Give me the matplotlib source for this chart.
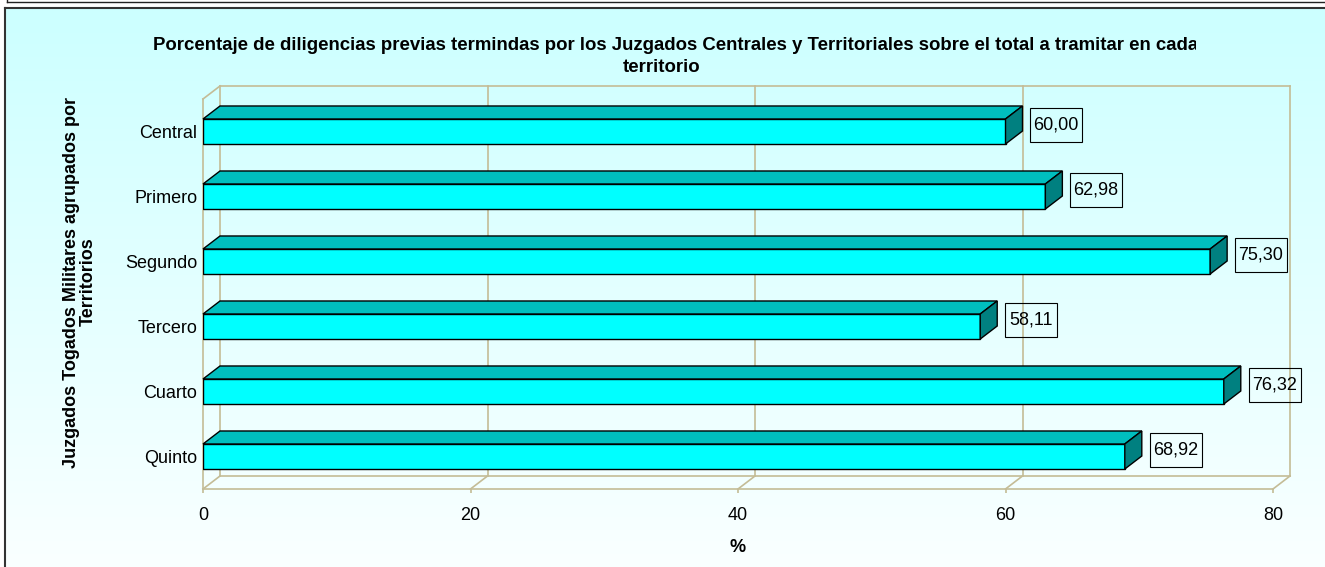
import numpy as np
import matplotlib

matplotlib.use("Agg")
from matplotlib import pyplot as plt
from matplotlib import font_manager as fm
from matplotlib.patches import Polygon, Rectangle
from matplotlib.lines import Line2D
from matplotlib.transforms import Bbox, TransformedBbox

plt.rcParams["font.family"] = ["Liberation Sans", "DejaVu Sans"]


def fuente(bold):
    # evitar que se cuele la variante Narrow
    for f in fm.fontManager.ttflist:
        if f.name == "Liberation Sans" and "Narrow" not in f.fname:
            if (f.weight in (700, "bold")) == bold and f.style == "normal":
                return fm.FontProperties(fname=f.fname)
    return fm.FontProperties(family="Liberation Sans", weight="bold" if bold else "normal")


territorios = ["Central", "Primero", "Segundo", "Tercero", "Cuarto", "Quinto"]
porcentajes = [60.00, 62.98, 75.30, 58.11, 76.32, 68.92]
etiquetas = ["60,00", "62,98", "75,30", "58,11", "76,32", "68,92"]
x_ticks = [0, 20, 40, 60, 80]

W, H = 1325, 567
fig = plt.figure(figsize=(W / 100, H / 100), dpi=100)
fig.patch.set_facecolor("white")
negrita = fuente(True)
normal = fuente(False)

# fondo degradado del área del gráfico
bg = fig.add_axes([5 / W, 0, 1 - 5 / W, 1 - 7 / H])
bg.set_zorder(-10)
grad = np.linspace(0, 1, 256)[:, None]
top_c = np.array([204, 255, 255]) / 255
bot_c = np.array([250, 255, 255]) / 255
img = top_c[None, None, :] * (1 - grad[:, :, None]) + bot_c[None, None, :] * grad[:, :, None]
bg.imshow(img, aspect="auto", extent=(0, 1, 0, 1))
bg.set_axis_off()

# marcos
fig.add_artist(Line2D([5 / W, 1], [1 - 7.5 / H] * 2, color="#333333", lw=1.5, transform=fig.transFigure))
fig.add_artist(Line2D([5 / W] * 2, [0, 1 - 7.5 / H], color="#333333", lw=1.5, transform=fig.transFigure))
fig.add_artist(Line2D([7 / W, 1], [1 - 1.5 / H] * 2, color="#222222", lw=1.0, transform=fig.transFigure))
fig.add_artist(Line2D([7 / W] * 2, [1 - 1.5 / H, 1], color="#222222", lw=1.0, transform=fig.transFigure))

ax = fig.add_axes([203 / W, 1 - 489 / H, (1273 - 203) / W, (489 - 99) / H])
ax.patch.set_visible(False)
n = len(territorios)
y = np.arange(n)
ax.set_xlim(0, 80)
ax.set_ylim(n - 0.5, -0.5)

dx = 17 / 13.375
dy = 0.2
h = 0.385
wall = "#C4BC96"

# pared del fondo y suelo
y_top, y_bot = -0.5, n - 0.5
for xv in x_ticks:
    ax.plot([xv + dx] * 2, [y_bot - dy, y_top - dy], color=wall, lw=1.2, clip_on=False, zorder=1)
    ax.plot([xv, xv + dx], [y_bot, y_bot - dy], color=wall, lw=1.2, clip_on=False, zorder=1)
ax.plot([dx, 80 + dx], [y_top - dy] * 2, color=wall, lw=1.2, clip_on=False, zorder=1)
ax.plot([dx, 80 + dx], [y_bot - dy] * 2, color=wall, lw=1.2, clip_on=False, zorder=1)
ax.plot([0, 80], [y_bot] * 2, color=wall, lw=1.2, clip_on=False, zorder=1)
ax.plot([0, 0], [y_bot, y_top], color=wall, lw=1.2, clip_on=False, zorder=1)
ax.plot([0, dx], [y_top, y_top - dy], color=wall, lw=1.2, clip_on=False, zorder=1)

# barras 3D
ax.barh(y, porcentajes, height=h, color="#00FFFF", edgecolor="black", lw=1.0, zorder=3)
box_w, box_h = 52 / 13.375, 34 / 65
for yi, v, lab in zip(y, porcentajes, etiquetas):
    t = yi - h / 2
    b = yi + h / 2
    ax.add_patch(Polygon([(0, t), (v, t), (v + dx, t - dy), (dx, t - dy)], closed=True,
                         facecolor="#00BFBF", edgecolor="black", lw=1.0, zorder=3, clip_on=False))
    ax.add_patch(Polygon([(v, t), (v + dx, t - dy), (v + dx, b - dy), (v, b)], closed=True,
                         facecolor="#008080", edgecolor="black", lw=1.0, zorder=3, clip_on=False))
    x0 = v + 1.85
    yc = yi - dy / 2
    ax.add_patch(Rectangle((x0, yc - box_h / 2), box_w, box_h, facecolor="none",
                           edgecolor="black", lw=0.8, zorder=4, clip_on=False))
    ax.text(x0 + box_w / 2, yc, lab, ha="center", va="center", fontproperties=normal,
            fontsize=13, zorder=4, clip_on=False)

ax.set_xticks(x_ticks)
ax.set_yticks(y, labels=territorios)
ax.tick_params(axis="x", length=3, width=1.2, color=wall, pad=10, labelsize=13)
ax.tick_params(axis="y", length=0, pad=4, labelsize=13)
for lbl in ax.get_xticklabels() + ax.get_yticklabels():
    lbl.set_fontproperties(normal)
    lbl.set_fontsize(13)
for s in ax.spines.values():
    s.set_visible(False)

fig.text(738 / W, 1 - 547 / H, "%", ha="center", va="center", fontproperties=negrita, fontsize=13)
fig.text(80 / W, 1 - 282 / H, "Juzgados Togados Militares agrupados por\nTerritorios",
         rotation=90, ha="center", va="center", multialignment="center",
         fontproperties=negrita, fontsize=13, linespacing=0.95)

titulo = fig.text(153 / W, 1 - 46 / H,
                  "Porcentaje de diligencias previas termindas por los Juzgados Centrales y "
                  "Territoriales sobre el total a tramitar en cada",
                  ha="left", va="center", fontproperties=negrita, fontsize=13.45)
titulo.set_clip_box(TransformedBbox(Bbox([[0, 0], [1196 / W, 1]]), fig.transFigure))
titulo.set_clip_on(True)
fig.text(662 / W, 1 - 68 / H, "territorio", ha="center", va="center",
         fontproperties=negrita, fontsize=13.45)

fig.savefig("out.png", dpi=100)
